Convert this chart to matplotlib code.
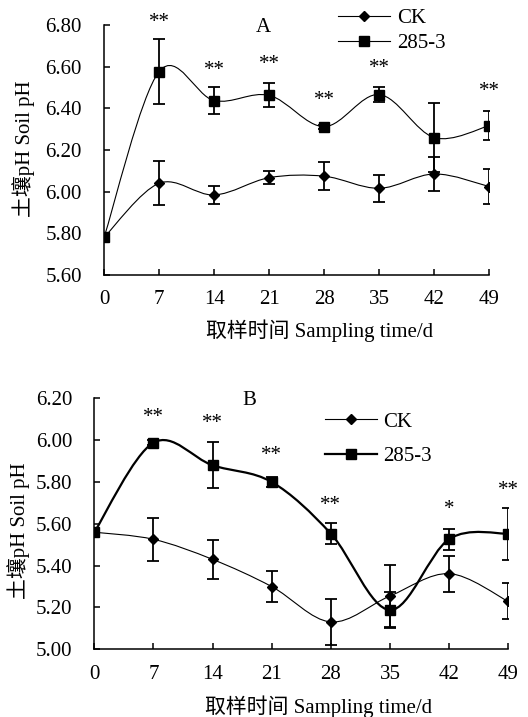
import numpy as np
import matplotlib
matplotlib.use("Agg")
import matplotlib.pyplot as plt
from matplotlib.path import Path
from matplotlib.patches import PathPatch
from matplotlib.lines import Line2D

plt.rcParams['font.family'] = ['Liberation Serif', 'Noto Sans CJK SC']
plt.rcParams['font.size'] = 15

# 取样时间 (d)
days = [0, 7, 14, 21, 28, 35, 42, 49]

# 图A
a_ck = [5.78, 6.04, 5.984, 6.067, 6.074, 6.016, 6.085, 6.024]
a_ck_err = [0.01, 0.105, 0.044, 0.031, 0.067, 0.065, 0.082, 0.083]
a_t = [5.78, 6.576, 6.437, 6.462, 6.312, 6.466, 6.259, 6.317]
a_t_err = [0.01, 0.155, 0.063, 0.058, 0.01, 0.035, 0.165, 0.07]
a_star_x = [7, 14, 21, 28, 35, 49]
a_star_y = [6.81, 6.58, 6.612, 6.436, 6.591, 6.48]
a_star_txt = ['**', '**', '**', '**', '**', '**']

# 图B
b_ck = [5.56, 5.526, 5.430, 5.300, 5.131, 5.255, 5.362, 5.229]
b_ck_err = [0.01, 0.104, 0.094, 0.075, 0.11, 0.15, 0.086, 0.086]
b_t = [5.56, 5.988, 5.880, 5.800, 5.553, 5.188, 5.527, 5.553]
b_t_err = [0.01, 0.012, 0.11, 0.025, 0.05, 0.085, 0.05, 0.125]
b_star_x = [7, 14, 21, 28, 42, 49]
b_star_y = [6.11, 6.08, 5.925, 5.686, 5.67, 5.76]
b_star_txt = ['**', '**', '**', '**', '*', '**']


def smooth_path(x, y):
    # Excel style smoothed line (Catmull-Rom as cubic Bezier)
    p = np.column_stack([x, y]).astype(float)
    n = len(p)
    verts = [p[0]]
    codes = [Path.MOVETO]
    for i in range(n - 1):
        p0 = p[i - 1] if i > 0 else p[i]
        p1 = p[i]
        p2 = p[i + 1]
        p3 = p[i + 2] if i + 2 < n else p[i + 1]
        verts += [p1 + (p2 - p0) / 6, p2 - (p3 - p1) / 6, p2]
        codes += [Path.CURVE4] * 3
    return Path(verts, codes)


def panel(ax, ck, ck_err, t, t_err, lw_t, ylim, yticks):
    for yy, ee, mk, ms, lw in [(ck, ck_err, 'D', 5.5, 0.8), (t, t_err, 's', 6.7, lw_t)]:
        ax.add_patch(PathPatch(smooth_path(days, yy), fill=False, edgecolor='k', lw=lw))
        ax.errorbar(days, yy, yerr=ee, fmt='none', ecolor='k', elinewidth=1.3,
                    capsize=4.5, capthick=1.3)
        ax.plot(days, yy, linestyle='none', marker=mk, ms=ms, color='k')
    ax.set_xlim(0, 49)
    ax.set_ylim(*ylim)
    ax.set_xticks(days)
    ax.set_yticks(yticks)
    ax.set_yticklabels(['%.2f' % v for v in yticks])
    for s in ['top', 'right']:
        ax.spines[s].set_visible(False)
    for s in ['left', 'bottom']:
        ax.spines[s].set_linewidth(1.1)
    ax.tick_params(axis='both', direction='in', length=4.5, width=1.1)
    ax.tick_params(axis='y', pad=16)
    ax.tick_params(axis='x', pad=11)
    ax.set_xlabel('取样时间 Sampling time/d')
    ax.set_ylabel('土壤pH Soil pH')
    ax.xaxis.label.set_va('center')
    ax.yaxis.label.set_va('center')


def legend(ax, lw_t, x, y, spacing):
    h = [Line2D([], [], color='k', lw=0.8, marker='D', ms=5.5),
         Line2D([], [], color='k', lw=lw_t, marker='s', ms=6.7)]
    ax.legend(h, ['CK', '285-3'], frameon=False, loc='upper left',
              bbox_to_anchor=(x, y), borderpad=0, borderaxespad=0,
              handlelength=2.5, handletextpad=0.3, labelspacing=spacing)


fig = plt.figure(figsize=(5.28, 7.17), dpi=100)

axA = fig.add_axes([0.197, 0.6165, 0.730, 0.3487])
panel(axA, a_ck, a_ck_err, a_t, a_t_err, 0.8, (5.6, 6.8), np.arange(5.6, 6.81, 0.2))
for xx, yy, s in zip(a_star_x, a_star_y, a_star_txt):
    axA.text(xx, yy, s, ha='center', va='center')
axA.text(20.2, 6.79, 'A', ha='center', va='center')
legend(axA, 0.8, 0.608, 1.065, 0.25)
axA.xaxis.set_label_coords(0.558, -0.224)
axA.yaxis.set_label_coords(-0.21, 0.504)

axB = fig.add_axes([0.1786, 0.0944, 0.784, 0.350])
panel(axB, b_ck, b_ck_err, b_t, b_t_err, 1.6, (5.0, 6.2), np.arange(5.0, 6.21, 0.2))
for xx, yy, s in zip(b_star_x, b_star_y, b_star_txt):
    axB.text(xx, yy, s, ha='center', va='center')
axB.text(18.4, 6.19, 'B', ha='center', va='center')
legend(axB, 1.6, 0.557, 0.945, 0.7)
axB.xaxis.set_label_coords(0.542, -0.23)
axB.yaxis.set_label_coords(-0.184, 0.472)

fig.savefig('out.png', dpi=100)
